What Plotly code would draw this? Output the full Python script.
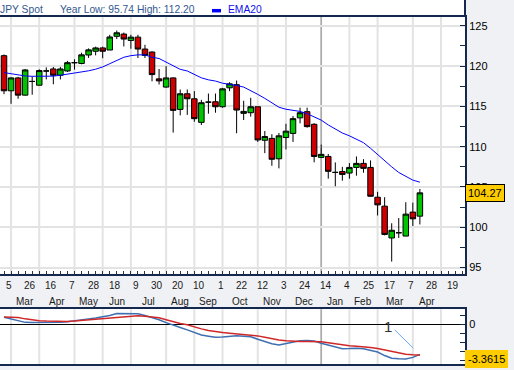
import pandas as pd
import plotly.graph_objects as go

# ---------------- data (weekly candles) ----------------
week_start = "2007-02-26"
n_weeks = 60
weeks = pd.date_range(week_start, periods=n_weeks, freq="7D")

opens = [121.30, 116.94, 118.54, 116.40, 118.10, 117.63, 119.40, 119.65, 118.87, 119.40,
         120.43, 120.33, 121.38, 121.85, 122.26, 122.00, 123.70, 123.98, 123.19, 123.60,
         122.12, 121.75, 118.42, 117.40, 118.54, 114.63, 116.57, 115.95, 113.02, 115.53,
         115.58, 114.96, 117.31, 117.70, 114.14, 114.22, 114.96, 110.80, 111.03, 108.50,
         111.14, 111.65, 113.58, 114.35, 112.78, 108.67, 108.79, 106.81, 106.92, 106.73,
         107.43, 107.93, 107.43, 103.73, 102.62, 98.67, 99.32, 98.91, 101.88, 101.38]
highs = [121.45, 118.60, 118.67, 119.65, 118.70, 119.60, 119.85, 119.90, 119.90, 120.65,
         120.85, 121.66, 122.20, 122.42, 122.42, 123.89, 124.42, 124.17, 123.89, 123.89,
         122.65, 121.83, 119.65, 120.00, 118.60, 117.10, 117.10, 116.90, 115.82, 116.60,
         116.60, 117.30, 118.00, 118.21, 115.70, 116.07, 114.96, 111.95, 111.55, 111.70,
         112.85, 113.80, 114.84, 114.84, 112.92, 110.25, 109.10, 108.05, 107.50, 107.96,
         108.79, 108.45, 108.30, 104.40, 103.73, 100.50, 101.14, 103.11, 103.06, 104.75]
lows = [116.52, 115.33, 115.95, 116.36, 116.45, 117.60, 118.35, 117.75, 118.35, 119.28,
        119.57, 120.23, 121.02, 121.34, 120.98, 122.00, 123.36, 122.44, 122.16, 121.01,
        121.01, 118.12, 117.72, 117.31, 111.75, 113.89, 113.95, 113.10, 112.69, 114.10,
        114.22, 114.84, 116.89, 111.67, 113.31, 113.73, 110.59, 109.20, 107.63, 107.31,
        109.65, 110.59, 112.90, 112.37, 108.06, 108.60, 106.03, 105.09, 105.78, 106.03,
        106.40, 106.77, 103.80, 101.46, 98.99, 95.74, 98.67, 98.90, 100.16, 100.35]
closes = [116.94, 118.54, 116.40, 119.53, 118.10, 119.45, 119.40, 118.87, 119.65, 120.43,
          120.43, 121.40, 122.02, 122.26, 121.85, 123.62, 124.14, 123.36, 123.60, 122.12,
          121.33, 118.95, 118.17, 118.54, 114.51, 116.57, 115.95, 113.48, 115.46, 115.53,
          114.96, 117.18, 117.80, 114.55, 114.38, 114.96, 110.84, 111.26, 108.44, 111.35,
          111.93, 113.48, 114.22, 112.49, 108.79, 109.05, 106.94, 106.81, 106.56, 107.43,
          107.93, 107.31, 103.85, 102.78, 99.11, 99.63, 99.32, 101.63, 101.05, 104.27]
ema20 = [119.20, 119.05, 118.88, 118.78, 118.74, 118.74, 118.74, 118.76, 118.87, 119.00,
         119.15, 119.27, 119.42, 119.62, 119.90, 120.30, 120.75, 121.10, 121.30, 121.40,
         121.40, 121.10, 120.95, 120.50, 120.10, 119.60, 119.40, 118.95, 118.55, 118.30,
         118.15, 117.88, 117.76, 117.60, 117.40, 117.00, 116.50, 116.00, 115.40, 114.90,
         114.65, 114.50, 114.38, 114.10, 113.70, 113.30, 112.70, 112.15, 111.70, 111.35,
         110.95, 110.50, 109.80, 109.00, 108.20, 107.50, 106.80, 106.30, 105.85, 105.60]
osc_blue = [0.78, 0.57, 0.35, 0.21, 0.20, 0.19, 0.19, 0.20, 0.21, 0.28,
            0.41, 0.50, 0.60, 0.69, 0.80, 0.97, 1.19, 1.19, 1.19, 1.17,
            0.98, 0.75, 0.50, 0.18, -0.12, -0.37, -0.63, -0.95, -1.20, -1.33,
            -1.45, -1.42, -1.32, -1.28, -1.33, -1.40, -1.67, -1.92, -2.18, -2.33,
            -2.19, -2.00, -1.84, -1.82, -1.87, -2.12, -2.35, -2.58, -2.74, -2.72,
            -2.68, -2.75, -2.92, -3.10, -3.50, -3.80, -3.86, -3.87, -3.70, -3.3615]
osc_red = [0.82, 0.78, 0.74, 0.60, 0.46, 0.40, 0.36, 0.33, 0.31, 0.32,
           0.36, 0.43, 0.50, 0.55, 0.60, 0.68, 0.78, 0.84, 0.91, 0.95,
           0.88, 0.81, 0.72, 0.50, 0.27, 0.09, -0.05, -0.30, -0.52, -0.70,
           -0.83, -0.92, -1.00, -1.07, -1.14, -1.19, -1.30, -1.45, -1.63, -1.76,
           -1.85, -1.91, -1.93, -1.93, -1.93, -1.96, -2.08, -2.20, -2.32, -2.40,
           -2.45, -2.50, -2.60, -2.72, -2.88, -3.00, -3.20, -3.35, -3.42, -3.47]

day_labels = ["5", "26", "16", "7", "28", "18", "9", "30", "20", "10", "1", "22",
              "12", "3", "24", "14", "4", "25", "17", "7", "28", "19"]
day_label_dates = pd.date_range("2007-03-05", periods=len(day_labels), freq="21D")
month_labels = ["Feb", "Mar", "Apr", "May", "Jun", "Jul", "Aug", "Sep", "Oct",
                "Nov", "Dec", "Jan", "Feb", "Mar", "Apr"]

last_price = 104.27
last_osc = -3.3615
title_text = "JPY Spot"
range_text = "Year Low: 95.74 High: 112.20"
legend_text = "EMA20"

# ---------------- layout helpers ----------------
W, H = 514, 370
NAVY = "#15294f"
GRID = "#e3e3e3"
BG = "#f0f1f4"
FONT = "Liberation Sans, Arial, sans-serif"


def px(x):
    return x / W


def py(y):
    return 1 - y / H


t0 = pd.Timestamp(week_start)
x_range = [t0 - pd.Timedelta(days=3.97), t0 + pd.Timedelta(days=457.8)]

# first Monday of each month -> month grid lines
mondays = pd.date_range("2007-02-01", "2008-06-30", freq="W-MON")
first_mondays = pd.Series(mondays).groupby([mondays.year, mondays.month]).first().tolist()
grid_months = [d for d in first_mondays if x_range[0] <= d <= x_range[1]]
month_mid = [first_mondays[k] + (first_mondays[k + 1] - first_mondays[k]) / 2
             for k in range(len(month_labels))]
year_line = pd.Timestamp("2008-01-07")

fig = go.Figure()
fig.add_trace(go.Candlestick(
    x=weeks, open=opens, high=highs, low=lows, close=closes,
    increasing=dict(line=dict(color="black", width=1), fillcolor="#00c400"),
    decreasing=dict(line=dict(color="black", width=1), fillcolor="#cc0000"),
    xaxis="x", yaxis="y", showlegend=False, hoverinfo="skip"))
fig.add_trace(go.Scatter(x=weeks, y=ema20, mode="lines",
                         line=dict(color="#0000ff", width=1), xaxis="x", yaxis="y",
                         showlegend=False, hoverinfo="skip"))
fig.add_trace(go.Scatter(x=weeks, y=osc_blue, mode="lines",
                         line=dict(color="#3f6fb2", width=1.5), xaxis="x2", yaxis="y2",
                         showlegend=False, hoverinfo="skip"))
fig.add_trace(go.Scatter(x=weeks, y=osc_red, mode="lines",
                         line=dict(color="#d02828", width=1.5), xaxis="x2", yaxis="y2",
                         showlegend=False, hoverinfo="skip"))

shapes = []
# header white strip and its right edge
shapes.append(dict(type="rect", xref="paper", yref="paper", x0=0, x1=px(465), y0=py(17), y1=1,
                   fillcolor="white", line=dict(width=0), layer="below"))
shapes.append(dict(type="line", xref="paper", yref="paper", x0=px(465), x1=px(465), y0=py(17), y1=1,
                   line=dict(color=NAVY, width=2)))
for d in grid_months:
    for yr in ("y domain", "y2 domain"):
        shapes.append(dict(type="line", xref="x", yref=yr, x0=d, x1=d, y0=0, y1=1,
                           line=dict(color=GRID, width=2), layer="below"))
for yr in ("y domain", "y2 domain"):
    shapes.append(dict(type="line", xref="x", yref=yr, x0=year_line, x1=year_line, y0=0, y1=1,
                       line=dict(color="#a8a8a8", width=1.5), layer="below"))
# legend swatch
shapes.append(dict(type="rect", xref="paper", yref="paper", x0=px(212), x1=px(221),
                   y0=py(12.5), y1=py(9), fillcolor="#0000ff", line=dict(width=0)))
# drawn trend line in the lower panel
shapes.append(dict(type="line", xref="x2", yref="y2",
                   x0=pd.Timestamp("2008-03-20"), y0=-0.63,
                   x1=pd.Timestamp("2008-04-07 10:00"), y1=-2.67,
                   line=dict(color="#6aa8f0", width=1)))

ann = []
ann.append(dict(text=title_text, xref="paper", yref="paper", x=0, y=py(10), xshift=-2,
                xanchor="left", yanchor="middle", showarrow=False,
                font=dict(size=10.3, color="#34578f", family=FONT)))
ann.append(dict(text=range_text, xref="paper", yref="paper", x=px(58), y=py(10),
                xanchor="left", yanchor="middle", showarrow=False,
                font=dict(size=10.3, color="#34578f", family=FONT)))
ann.append(dict(text=legend_text, xref="paper", yref="paper", x=px(226), y=py(10),
                xanchor="left", yanchor="middle", showarrow=False,
                font=dict(size=10.3, color="#1010e8", family=FONT)))
for d, t in zip(day_label_dates, day_labels):
    ann.append(dict(text=t, xref="x", yref="paper", x=d, y=py(287), xshift=-2,
                    xanchor="center", yanchor="middle", showarrow=False,
                    font=dict(size=10, color="#1a1a1a", family=FONT)))
for d, t in zip(month_mid, month_labels):
    ann.append(dict(text=t, xref="x", yref="paper", x=d, y=py(303),
                    xanchor="center", yanchor="middle", showarrow=False,
                    font=dict(size=10, color="#1a1a1a", family=FONT)))
ann.append(dict(text=f"{last_price:.2f}", xref="paper", yref="y", x=px(465), y=last_price,
                yshift=0, xanchor="left", yanchor="middle", showarrow=False, bgcolor="#ffcc00",
                bordercolor="black", borderwidth=1, borderpad=2,
                font=dict(size=11, color="black", family=FONT)))
ann.append(dict(text=f"{last_osc:.4f}", xref="paper", yref="y2", x=px(465), y=last_osc,
                yshift=-5, xanchor="left", yanchor="middle", showarrow=False, bgcolor="#ffcc00",
                bordercolor="#ffcc00", borderwidth=1, borderpad=2,
                font=dict(size=11, color="black", family=FONT)))
ann.append(dict(text="1", xref="x2", yref="y2", x=pd.Timestamp("2008-03-13"), y=-0.05,
                yshift=-2, xanchor="center", yanchor="middle", showarrow=False,
                font=dict(size=15, color="#333333", family=FONT)))

fig.update_layout(
    width=W, height=H, margin=dict(l=0, r=0, t=0, b=0),
    paper_bgcolor=BG, plot_bgcolor="white", showlegend=False,
    font=dict(family=FONT, size=11, color="black"),
    boxgap=0.22, boxgroupgap=0,
    xaxis=dict(domain=[0, px(465)], range=x_range, type="date", anchor="y",
               showgrid=False, showticklabels=False, zeroline=False,
               ticks="inside", tickmode="linear", tick0=weeks[0], dtick=7 * 86400000,
               ticklen=3, tickwidth=1, tickcolor="#333333",
               showline=True, mirror=True, linecolor=NAVY, linewidth=2,
               rangeslider=dict(visible=False), fixedrange=True),
    yaxis=dict(domain=[py(275), py(17)], range=[94.259, 126.111], side="right", anchor="x",
               showgrid=True, gridcolor=GRID, gridwidth=2, zeroline=False,
               tick0=0, dtick=5, ticks="inside", ticklen=5, tickcolor=NAVY,
               minor=dict(dtick=2.5, ticks="inside", ticklen=5, tickcolor=NAVY, showgrid=False),
               showline=True, linecolor=NAVY, linewidth=2,
               tickfont=dict(size=11, color="black", family=FONT), fixedrange=True),
    xaxis2=dict(domain=[0, px(465)], matches="x", anchor="y2", type="date",
                showgrid=False, showticklabels=False, ticks="", zeroline=False,
                showline=True, mirror=True, linecolor=NAVY, linewidth=2, fixedrange=True),
    yaxis2=dict(domain=[py(366), py(311)], range=[-4.444, 1.667], side="right", anchor="x2",
                showgrid=False, zeroline=True, zerolinecolor="black", zerolinewidth=1,
                tick0=0, dtick=4, ticks="inside", ticklen=5, tickcolor=NAVY,
                minor=dict(dtick=1, ticks="inside", ticklen=5, tickcolor=NAVY),
                showline=True, linecolor=NAVY, linewidth=2,
                tickfont=dict(size=11, color="black", family=FONT), fixedrange=True),
    shapes=shapes, annotations=ann,
)

fig.write_html("out.html", config={"displayModeBar": False},
               post_script="document.body.style.margin='0';document.body.style.padding='0';")
